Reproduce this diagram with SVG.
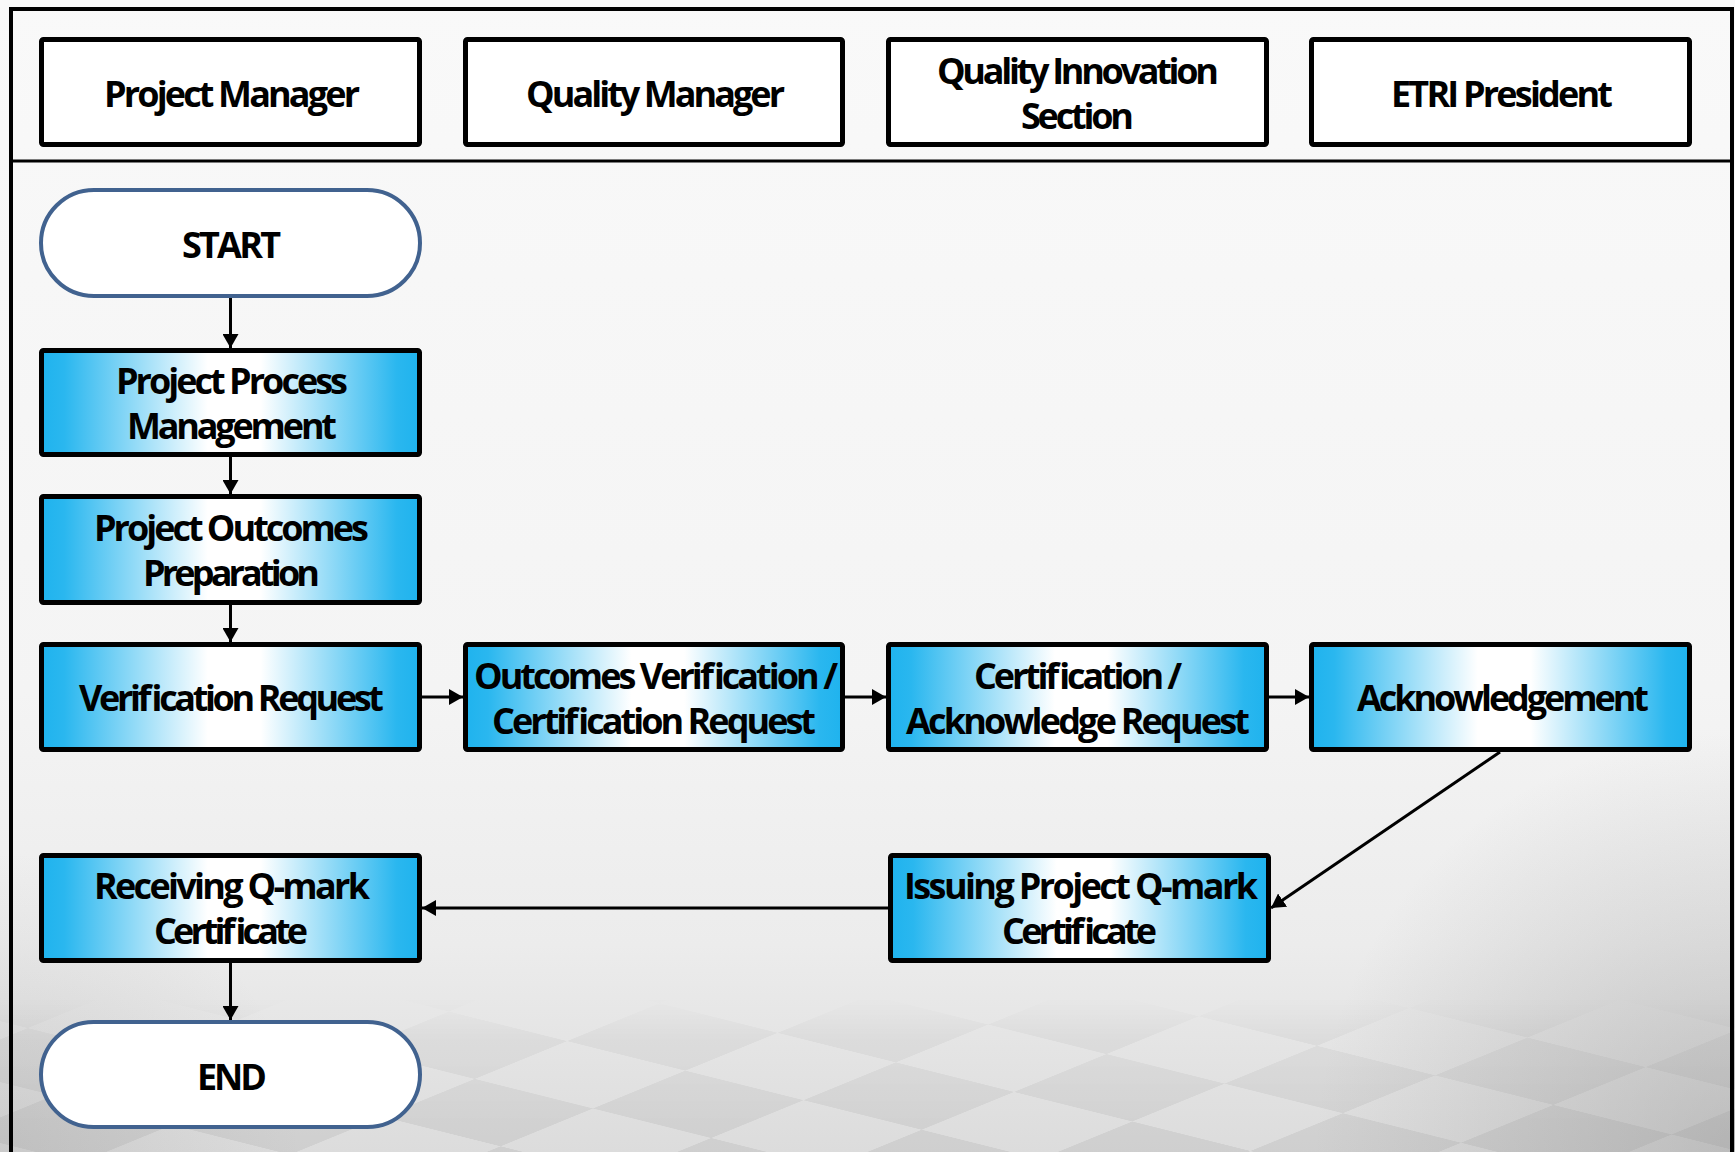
<svg xmlns="http://www.w3.org/2000/svg" width="1735" height="1152" viewBox="0 0 1735 1152">
<defs>
  <linearGradient id="bg" x1="0" y1="0" x2="0" y2="1">
    <stop offset="0" stop-color="#f9f9f9"/>
    <stop offset="0.6" stop-color="#f4f4f4"/>
    <stop offset="0.82" stop-color="#ececec"/>
    <stop offset="1" stop-color="#dcdcdc"/>
  </linearGradient>
  <radialGradient id="corner" cx="1735" cy="1152" r="420" gradientUnits="userSpaceOnUse">
    <stop offset="0" stop-color="#808080" stop-opacity="0.35"/>
    <stop offset="1" stop-color="#808080" stop-opacity="0"/>
  </radialGradient>
  <radialGradient id="cornerL" cx="0" cy="1152" r="300" gradientUnits="userSpaceOnUse">
    <stop offset="0" stop-color="#808080" stop-opacity="0.2"/>
    <stop offset="1" stop-color="#808080" stop-opacity="0"/>
  </radialGradient>
  <pattern id="chk" width="300" height="300" patternUnits="userSpaceOnUse" patternTransform="translate(870,995) scale(1,0.32) rotate(38)">
    <rect x="0" y="0" width="150" height="150" fill="#000"/>
    <rect x="150" y="150" width="150" height="150" fill="#000"/>
  </pattern>
  <linearGradient id="fade" x1="0" y1="995" x2="0" y2="1152" gradientUnits="userSpaceOnUse">
    <stop offset="0" stop-color="#fff" stop-opacity="0"/>
    <stop offset="0.3" stop-color="#fff" stop-opacity="0.6"/>
    <stop offset="1" stop-color="#fff" stop-opacity="1"/>
  </linearGradient>
  <mask id="floorMask">
    <rect x="0" y="995" width="1735" height="157" fill="url(#fade)"/>
  </mask>
  <linearGradient id="boxfill" x1="0" y1="0" x2="1" y2="0">
    <stop offset="0" stop-color="#1fb3ee"/>
    <stop offset="0.06" stop-color="#2ab7ef"/>
    <stop offset="0.44" stop-color="#ffffff"/>
    <stop offset="0.58" stop-color="#ffffff"/>
    <stop offset="0.94" stop-color="#2ab7ef"/>
    <stop offset="1" stop-color="#1fb3ee"/>
  </linearGradient>
  <marker id="arr" viewBox="0 0 14 16" markerUnits="userSpaceOnUse" markerWidth="14" markerHeight="16" refX="14" refY="8" orient="auto">
    <path d="M0,0 L14,8 L0,16 z" fill="#000"/>
  </marker>
  <style>
    .hdr { fill: #ffffff; stroke: #000; stroke-width: 5; }
    .proc { fill: url(#boxfill); stroke: #000; stroke-width: 5; }
    .term { fill: #ffffff; stroke: #41628f; stroke-width: 4; }
    .t { font-family: "Open Sans", "Noto Sans", "DejaVu Sans", sans-serif; font-weight: bold; font-size: 36px; fill: #000; text-anchor: middle; }
    .conn line { stroke: #000; stroke-width: 3; fill: none; marker-end: url(#arr); }
    .frame { fill: none; stroke: #000; stroke-width: 4; }
  </style>
</defs>

<g id="background">
  <rect x="0" y="0" width="1735" height="1152" fill="url(#bg)"/>
  <rect x="0" y="995" width="1735" height="157" fill="url(#chk)" opacity="0.06" mask="url(#floorMask)"/>
  <rect x="0" y="0" width="1735" height="1152" fill="url(#corner)"/>
  <rect x="0" y="0" width="1735" height="1152" fill="url(#cornerL)"/>
</g>

<g id="frame">
  <path class="frame" d="M11,1152 L11,9 L1732,9 L1732,1152"/>
  <line x1="11" y1="161" x2="1732" y2="161" stroke="#000" stroke-width="3"/>
</g>

<g id="lane-project-manager">
  <rect class="hdr" x="41.5" y="39.5" width="378" height="105" rx="2"/>
  <text class="t" x="232" y="107" textLength="256">Project Manager</text>
</g>
<g id="lane-quality-manager">
  <rect class="hdr" x="465.5" y="39.5" width="377" height="105" rx="2"/>
  <text class="t" x="655.5" y="107" textLength="259">Quality Manager</text>
</g>
<g id="lane-quality-innovation">
  <rect class="hdr" x="888.5" y="39.5" width="378" height="105" rx="2"/>
  <text class="t" x="1078" y="84" textLength="282">Quality Innovation</text>
  <text class="t" x="1077.5" y="129" textLength="113">Section</text>
</g>
<g id="lane-etri-president">
  <rect class="hdr" x="1311.5" y="39.5" width="378" height="105" rx="2"/>
  <text class="t" x="1502" y="107" textLength="222">ETRI President</text>
</g>

<g id="start">
  <rect class="term" x="41" y="190" width="379" height="106" rx="53"/>
  <text class="t" x="231.5" y="258" textLength="99">START</text>
</g>
<g id="project-process-management">
  <rect class="proc" x="41.5" y="350.5" width="378" height="104" rx="2"/>
  <text class="t" x="232" y="394" textLength="232">Project Process</text>
  <text class="t" x="232" y="439" textLength="210">Management</text>
</g>
<g id="project-outcomes-preparation">
  <rect class="proc" x="41.5" y="496.5" width="378" height="106" rx="2"/>
  <text class="t" x="231.5" y="541" textLength="275">Project Outcomes</text>
  <text class="t" x="231.5" y="586" textLength="177">Preparation</text>
</g>
<g id="verification-request">
  <rect class="proc" x="41.5" y="644.5" width="378" height="105" rx="2"/>
  <text class="t" x="231.5" y="711" textLength="305">Verification Request</text>
</g>
<g id="outcomes-verification">
  <rect class="proc" x="465.5" y="644.5" width="377" height="105" rx="2"/>
  <text class="t" x="656" y="689" textLength="364">Outcomes Verification /</text>
  <text class="t" x="654" y="734" textLength="324">Certification Request</text>
</g>
<g id="certification-acknowledge-request">
  <rect class="proc" x="888.5" y="644.5" width="378" height="105" rx="2"/>
  <text class="t" x="1078" y="689" textLength="208">Certification /</text>
  <text class="t" x="1078" y="734" textLength="344">Acknowledge Request</text>
</g>
<g id="acknowledgement">
  <rect class="proc" x="1311.5" y="644.5" width="378" height="105" rx="2"/>
  <text class="t" x="1503" y="711" textLength="292">Acknowledgement</text>
</g>
<g id="issuing-certificate">
  <rect class="proc" x="890.5" y="855.5" width="378" height="105" rx="2"/>
  <text class="t" x="1081" y="899" textLength="354">Issuing Project Q-mark</text>
  <text class="t" x="1079.5" y="944" textLength="155">Certificate</text>
</g>
<g id="receiving-certificate">
  <rect class="proc" x="41.5" y="855.5" width="378" height="105" rx="2"/>
  <text class="t" x="232" y="899" textLength="276">Receiving Q-mark</text>
  <text class="t" x="231" y="944" textLength="154">Certificate</text>
</g>
<g id="end">
  <rect class="term" x="41" y="1022" width="379" height="105" rx="52.5"/>
  <text class="t" x="232" y="1090" textLength="70">END</text>
</g>

<g id="connectors" class="conn">
  <line x1="230.5" y1="298" x2="230.5" y2="348"/>
  <line x1="230.5" y1="457" x2="230.5" y2="494"/>
  <line x1="230.5" y1="605" x2="230.5" y2="642"/>
  <line x1="422" y1="697" x2="463" y2="697"/>
  <line x1="845" y1="697" x2="886" y2="697"/>
  <line x1="1269" y1="697" x2="1309" y2="697"/>
  <line x1="1500" y1="752" x2="1271" y2="908"/>
  <line x1="888" y1="908" x2="422" y2="908"/>
  <line x1="230.5" y1="963" x2="230.5" y2="1020"/>
</g>
</svg>
